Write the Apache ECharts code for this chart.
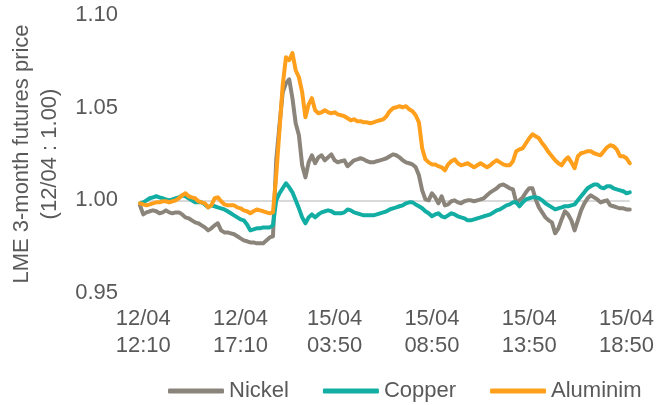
<!DOCTYPE html>
<html>
<head>
<meta charset="utf-8">
<script src="https://cdn.jsdelivr.net/npm/echarts@6/dist/echarts.min.js"></script>
<style>
  html, body { margin: 0; padding: 0; background: #ffffff; }
  #chart { width: 657px; height: 405px; }
</style>
</head>
<body>
<div id="chart"></div>
<script>
// LME 3-month futures, rebased to 12/04 = 1.00, 10-minute intervals
// Session 1: 12/04 12:00-19:00, session 2: 15/04 01:00-19:00
const sessions = [
  { day: '12/04', from: 12 * 60, to: 19 * 60 },
  { day: '15/04', from: 1 * 60, to: 19 * 60 }
];
const stepMinutes = 10;

const tickTimes = ['12/04 12:10', '12/04 17:10', '15/04 03:50', '15/04 08:50', '15/04 13:50', '15/04 18:50'];

const yTicks = [0.95, 1.00, 1.05, 1.10];

const seriesNames = ['Nickel', 'Copper', 'Aluminim'];
const seriesColors = ['#8B847A', '#12ADA3', '#FF9F1C'];

const nickel = [
  0.9973, 0.9924, 0.9935, 0.9941, 0.9946, 0.9941, 0.9930, 0.9935, 0.9946, 0.9935,
  0.9930, 0.9935, 0.9935, 0.9924, 0.9908, 0.9903, 0.9892, 0.9881, 0.9876, 0.9865,
  0.9854, 0.9838, 0.9849, 0.9865, 0.9876, 0.9838, 0.9827, 0.9827, 0.9822, 0.9817,
  0.9806, 0.9795, 0.9784, 0.9779, 0.9773, 0.9773, 0.9768, 0.9768, 0.9768, 0.9784,
  0.9800, 0.9806, 1.0216, 1.0405, 1.0583, 1.0632, 1.0653, 1.0551, 1.0416, 1.0351,
  1.0189, 1.0124, 1.0205, 1.0243, 1.0200, 1.0232, 1.0243, 1.0216, 1.0232, 1.0248,
  1.0216, 1.0205, 1.0211, 1.0216, 1.0184, 1.0200, 1.0216, 1.0221, 1.0227, 1.0221,
  1.0211, 1.0205, 1.0205, 1.0211, 1.0216, 1.0221, 1.0227, 1.0238, 1.0248, 1.0243,
  1.0232, 1.0216, 1.0205, 1.0200, 1.0194, 1.0178, 1.0135, 1.0054, 1.0005, 1.0000,
  1.0038, 1.0016, 0.9984, 1.0022, 0.9973, 0.9978, 0.9995, 1.0000, 0.9989, 0.9984,
  0.9995, 1.0000, 1.0000, 0.9995, 1.0000, 1.0005, 1.0011, 1.0027, 1.0043, 1.0054,
  1.0065, 1.0081, 1.0086, 1.0076, 1.0065, 1.0059, 0.9989, 1.0000, 1.0016, 1.0043,
  1.0065, 1.0065, 1.0005, 0.9962, 0.9935, 0.9908, 0.9892, 0.9881, 0.9822, 0.9849,
  0.9897, 0.9941, 0.9924, 0.9892, 0.9838, 0.9892, 0.9946, 0.9984, 1.0011, 1.0027,
  1.0016, 1.0005, 0.9989, 0.9995, 1.0000, 0.9973, 0.9968, 0.9962, 0.9957, 0.9957,
  0.9951, 0.9951
];

const copper = [
  0.9984, 0.9989, 1.0000, 1.0011, 1.0016, 1.0022, 1.0016, 1.0011, 1.0005, 1.0000,
  1.0005, 1.0011, 1.0016, 1.0027, 1.0022, 1.0011, 1.0000, 0.9989, 0.9989, 0.9989,
  0.9978, 0.9962, 0.9973, 0.9968, 0.9962, 0.9957, 0.9951, 0.9941, 0.9930, 0.9919,
  0.9908, 0.9897, 0.9892, 0.9870, 0.9838, 0.9843, 0.9849, 0.9849, 0.9854, 0.9854,
  0.9854, 0.9865, 1.0000, 1.0038, 1.0065, 1.0092, 1.0070, 1.0043, 1.0000, 0.9957,
  0.9908, 0.9876, 0.9908, 0.9924, 0.9908, 0.9924, 0.9935, 0.9941, 0.9946, 0.9941,
  0.9930, 0.9930, 0.9930, 0.9935, 0.9951, 0.9946, 0.9935, 0.9930, 0.9924, 0.9919,
  0.9919, 0.9919, 0.9919, 0.9924, 0.9930, 0.9935, 0.9941, 0.9951, 0.9957, 0.9962,
  0.9968, 0.9973, 0.9984, 0.9989, 0.9989, 0.9978, 0.9968, 0.9957, 0.9941, 0.9930,
  0.9914, 0.9924, 0.9930, 0.9914, 0.9908, 0.9919, 0.9930, 0.9924, 0.9914, 0.9908,
  0.9903, 0.9892, 0.9892, 0.9897, 0.9903, 0.9908, 0.9914, 0.9919, 0.9924, 0.9935,
  0.9946, 0.9951, 0.9962, 0.9973, 0.9978, 0.9989, 0.9989, 0.9968, 0.9989, 1.0005,
  1.0011, 1.0016, 1.0016, 1.0011, 1.0000, 0.9984, 0.9973, 0.9962, 0.9951, 0.9957,
  0.9962, 0.9968, 0.9968, 0.9973, 0.9978, 1.0000, 1.0022, 1.0043, 1.0065, 1.0076,
  1.0086, 1.0086, 1.0070, 1.0065, 1.0076, 1.0076, 1.0065, 1.0059, 1.0054, 1.0049,
  1.0038, 1.0043
];

const aluminim = [
  0.9984, 0.9978, 0.9973, 0.9978, 0.9984, 0.9989, 0.9989, 0.9995, 0.9995, 0.9989,
  0.9995, 1.0000, 1.0011, 1.0027, 1.0038, 1.0022, 1.0016, 1.0011, 0.9995, 0.9989,
  0.9984, 0.9962, 0.9973, 1.0011, 1.0016, 0.9995, 0.9978, 0.9973, 0.9973, 0.9973,
  0.9962, 0.9957, 0.9946, 0.9941, 0.9930, 0.9941, 0.9951, 0.9946, 0.9941, 0.9935,
  0.9930, 0.9935, 1.0135, 1.0378, 1.0621, 1.0772, 1.0756, 1.0794, 1.0702, 1.0664,
  1.0583, 1.0448, 1.0518, 1.0551, 1.0486, 1.0470, 1.0475, 1.0486, 1.0475, 1.0470,
  1.0475, 1.0464, 1.0459, 1.0454, 1.0443, 1.0432, 1.0437, 1.0427, 1.0427, 1.0421,
  1.0421, 1.0416, 1.0421, 1.0427, 1.0432, 1.0437, 1.0454, 1.0481, 1.0497, 1.0502,
  1.0508, 1.0502, 1.0508, 1.0491, 1.0481, 1.0459, 1.0421, 1.0281, 1.0221, 1.0205,
  1.0194, 1.0194, 1.0184, 1.0178, 1.0162, 1.0194, 1.0211, 1.0221, 1.0200, 1.0189,
  1.0194, 1.0200, 1.0189, 1.0178, 1.0189, 1.0200, 1.0189, 1.0178, 1.0189, 1.0205,
  1.0216, 1.0205, 1.0194, 1.0189, 1.0189, 1.0211, 1.0265, 1.0275, 1.0281, 1.0308,
  1.0335, 1.0356, 1.0346, 1.0335, 1.0308, 1.0286, 1.0259, 1.0238, 1.0216, 1.0200,
  1.0189, 1.0216, 1.0232, 1.0205, 1.0173, 1.0238, 1.0254, 1.0259, 1.0265, 1.0265,
  1.0254, 1.0248, 1.0243, 1.0265, 1.0286, 1.0297, 1.0292, 1.0275, 1.0238, 1.0238,
  1.0227, 1.0200
];

// Build the category axis (trading sessions only, weekend skipped)
function pad(n) { return (n < 10 ? '0' : '') + n; }
const categories = [];
sessions.forEach(function (s) {
  for (let m = s.from; m <= s.to; m += stepMinutes) {
    categories.push(s.day + ' ' + pad(Math.floor(m / 60)) + ':' + pad(m % 60));
  }
});

const textColor = '#595959';
const fontFamily = '"Liberation Sans", Arial, sans-serif';
const seriesData = [nickel, copper, aluminim];

const chart = echarts.init(document.getElementById('chart'), null, { renderer: 'canvas' });

chart.setOption({
  animation: false,
  backgroundColor: '#ffffff',
  textStyle: { fontFamily: fontFamily, color: textColor },
  grid: { left: 135, right: 25, top: 15, bottom: 112, containLabel: false },
  legend: {
    data: seriesNames,
    left: 163,
    top: 375,
    icon: 'roundRect',
    itemWidth: 56,
    itemHeight: 5,
    itemGap: 34,
    textStyle: { fontSize: 22, color: textColor, fontFamily: fontFamily, padding: [0, 0, 0, 0] }
  },
  xAxis: {
    type: 'category',
    data: categories,
    boundaryGap: false,
    axisLine: { show: false },
    axisTick: { show: false },
    splitLine: { show: false },
    axisLabel: {
      interval: function (index, value) { return tickTimes.indexOf(value) !== -1; },
      formatter: function (value) { return value.replace(' ', '\n'); },
      color: textColor,
      fontSize: 22,
      lineHeight: 27,
      margin: 12,
      fontFamily: fontFamily
    }
  },
  yAxis: {
    type: 'value',
    min: yTicks[0],
    max: yTicks[yTicks.length - 1],
    interval: 0.05,
    name: 'LME 3-month futures price\n(12/04 : 1.00)',
    nameLocation: 'middle',
    nameGap: 76,
    nameRotate: 90,
    nameTextStyle: { fontSize: 22, lineHeight: 28, color: textColor, fontFamily: fontFamily },
    axisLine: { show: false },
    axisTick: { show: false },
    axisLabel: {
      formatter: function (v) { return v.toFixed(2); },
      color: textColor,
      fontSize: 22,
      margin: 22,
      fontFamily: fontFamily
    },
    splitLine: {
      show: true,
      lineStyle: {
        // only the 1.00 reference line is visible
        color: yTicks.map(function (t) { return Math.abs(t - 1) < 1e-9 ? '#D9D9D9' : 'rgba(0,0,0,0)'; }),
        width: 2
      }
    }
  },
  series: seriesNames.map(function (name, i) {
    return {
      name: name,
      type: 'line',
      data: seriesData[i],
      showSymbol: false,
      symbol: 'none',
      smooth: false,
      color: seriesColors[i],
      lineStyle: { width: 4, color: seriesColors[i], join: 'round', cap: 'round' },
      emphasis: { disabled: true }
    };
  })
});
</script>
</body>
</html>
